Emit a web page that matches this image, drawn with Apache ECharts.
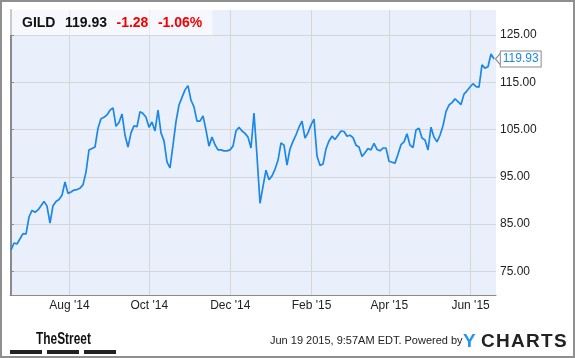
<!DOCTYPE html>
<html>
<head>
<meta charset="utf-8">
<script src="https://cdn.jsdelivr.net/npm/echarts@6/dist/echarts.min.js"></script>
<style>
html,body{margin:0;padding:0;background:#fff;}
#wrap{position:relative;width:575px;height:358px;}
#chart{position:absolute;left:0;top:0;width:575px;height:358px;}
#frame{position:absolute;left:0;top:0;width:575px;height:358px;box-sizing:border-box;border:2px solid #8f8f8f;pointer-events:none;}
</style>
</head>
<body>
<div id="wrap"><div id="chart"></div><div id="frame"></div></div>
<script>
// ---- data (GILD closing prices, Jun 2014 - Jun 19 2015, sampled along the chart) ----
const ticker = 'GILD';
const lastPrice = 119.93;
const change = '-1.28';
const changePct = '-1.06%';
const prices = [
  79.5, 81.0, 80.8, 81.9, 83.0, 82.9, 86.5, 87.9, 87.5, 88.0,
  88.9, 89.8, 88.8, 85.2, 88.9, 89.8, 90.2, 91.1, 93.9, 91.5,
  91.8, 92.2, 92.3, 92.6, 93.3, 96.0, 100.7, 101.0, 101.3, 105.3,
  107.3, 107.6, 108.1, 109.1, 109.6, 105.7, 106.5, 108.3, 103.8, 101.3,
  104.3, 105.8, 105.6, 108.8, 108.4, 107.6, 105.5, 106.6, 104.7, 109.1,
  104.3, 102.6, 98.1, 96.9, 101.7, 106.7, 110.2, 111.8, 113.4, 114.3,
  111.2, 109.8, 106.8, 106.8, 107.9, 104.9, 101.5, 103.4, 101.8, 100.7,
  100.7, 100.5, 100.5, 100.7, 101.5, 104.7, 105.5, 104.7, 104.2, 103.4,
  101.1, 108.5, 99.4, 89.4, 93.0, 96.4, 94.4, 95.2, 96.6, 98.5,
  102.2, 101.7, 97.5, 100.9, 102.5, 103.9, 105.5, 106.8, 103.2, 104.3,
  106.0, 107.2, 99.4, 97.4, 97.7, 100.9, 102.6, 103.6, 102.9, 103.8,
  104.7, 104.6, 103.6, 103.8, 103.3, 101.7, 101.3, 99.3, 100.1, 101.0,
  100.7, 102.1, 100.8, 100.5, 101.1, 101.1, 98.3, 98.1, 97.9, 99.8,
  101.8, 102.4, 104.1, 101.7, 101.2, 104.9, 105.3, 103.2, 102.8, 100.7,
  105.5, 103.4, 102.4, 103.8, 105.8, 108.8, 110.2, 110.7, 111.5, 110.9,
  110.3, 112.5, 113.2, 114.0, 114.7, 114.1, 114.0, 118.7, 118.0, 118.3,
  121.0, 119.93
];
// x positions (in sample units) of the month gridlines and their labels
const monthTickAt = [19.5, 46.1, 73.1, 100.2, 126.1, 153.2];
const monthLabels = ["Aug '14", "Oct '14", "Dec '14", "Feb '15", "Apr '15", "Jun '15"];
const priceTicks = [75, 85, 95, 105, 115, 125];
const footerNote = 'Jun 19 2015, 9:57AM EDT. Powered by';
const brandLetters = ['C', 'H', 'A', 'R', 'T', 'S'];

const seriesData = prices.map((v, i) => [i, v]);
const lastIndex = prices.length - 1;

const chart = echarts.init(document.getElementById('chart'), null, {renderer: 'canvas'});
const font = 'Liberation Sans, Arial, sans-serif';
const gridCol = '#d4d6da';
const axisCol = '#8a8a8a';

const graphics = [
  {type: 'text', left: 36, top: 331, scaleX: 0.7, style: {text: 'TheStreet', fontFamily: font, fontWeight: 'bold', fontSize: 17, fill: '#111'}},
  {type: 'rect', shape: {x: 10, y: 350, width: 32, height: 4}, style: {fill: '#222'}},
  {type: 'rect', shape: {x: 47, y: 350, width: 32, height: 4}, style: {fill: '#222'}},
  {type: 'rect', shape: {x: 84, y: 350, width: 32, height: 4}, style: {fill: '#222'}},
  {type: 'text', left: 270, top: 335, style: {text: footerNote, fontFamily: font, fontSize: 11, fill: '#222'}},
  {type: 'text', left: 463, top: 332, style: {text: 'Y', fontFamily: font, fontWeight: 'bold', fontSize: 19, fill: '#2196f3'}}
];
// letter-spaced brand name
const mctx = document.createElement('canvas').getContext('2d');
mctx.font = 'bold 19px Liberation Sans, Arial, sans-serif';
let bx = 481;
brandLetters.forEach(ch => {
  graphics.push({type: 'text', left: bx, top: 332,
    style: {text: ch, fontFamily: font, fontWeight: 'bold', fontSize: 19, fill: '#222'}});
  bx += mctx.measureText(ch).width + 1.3;
});

chart.setOption({
  animation: false,
  backgroundColor: '#fff',
  textStyle: {fontFamily: font},
  title: {
    left: 10, top: 10,
    padding: [4, 10, 3, 12],
    backgroundColor: 'rgba(255,255,255,0.55)',
    text: '{t|' + ticker + '}{s|}{p|' + lastPrice.toFixed(2) + '}{s|}{c|' + change + '}{s|}{c|' + changePct + '}',
    textStyle: {
      rich: {
        t: {fontFamily: font, fontSize: 14, fontWeight: 'bold', color: '#111'},
        p: {fontFamily: font, fontSize: 14, fontWeight: 'bold', color: '#111'},
        c: {fontFamily: font, fontSize: 14, fontWeight: 'bold', color: '#f50000'},
        s: {width: 9.5}
      }
    }
  },
  grid: {left: 10, right: 79, top: 10, bottom: 63, show: true, backgroundColor: '#eaf0fb', borderWidth: 0},
  xAxis: {
    type: 'value',
    min: -0.333, max: 161.667,
    axisLine: {show: true, onZero: false, lineStyle: {color: axisCol, width: 1}},
    axisTick: {show: false, customValues: monthTickAt},
    axisLabel: {
      customValues: monthTickAt,
      formatter: v => { const i = monthTickAt.indexOf(v); return i >= 0 ? monthLabels[i] : ''; },
      color: '#222', fontSize: 12, fontFamily: font, margin: 5
    },
    splitLine: {show: true, lineStyle: {color: gridCol, width: 1}}
  },
  yAxis: [{
    type: 'value', position: 'right',
    min: 70, max: 130.3,
    axisLine: {show: true, lineStyle: {color: axisCol, width: 1}},
    axisTick: {show: true, length: 3, customValues: priceTicks, lineStyle: {color: axisCol}},
    axisLabel: {
      customValues: priceTicks,
      formatter: v => v.toFixed(2),
      color: '#222', fontSize: 12, fontFamily: font, margin: 4
    },
    splitLine: {show: true, lineStyle: {color: gridCol, width: 1}}
  }, {
    type: 'value', position: 'left',
    min: 70, max: 130.3,
    axisLine: {show: true, onZero: false, lineStyle: {color: axisCol, width: 1}},
    axisTick: {show: false}, axisLabel: {show: false}, splitLine: {show: false}
  }],
  series: [{
    type: 'line',
    data: seriesData,
    yAxisIndex: 0,
    showSymbol: false,
    symbol: 'none',
    lineStyle: {color: '#1b87e6', width: 1.7},
    markPoint: {
      symbol: 'triangle',
      symbolRotate: 90,
      symbolSize: [12, 5],
      symbolOffset: [4, 0],
      itemStyle: {color: '#fff', borderColor: axisCol, borderWidth: 1},
      label: {
        show: true,
        position: 'right',
        distance: 0,
        formatter: () => lastPrice.toFixed(2),
        color: '#1b87e6', fontSize: 12, fontFamily: font,
        backgroundColor: '#fff', borderColor: axisCol, borderWidth: 1,
        padding: [2, 2, 1, 2]
      },
      data: [{coord: [lastIndex, lastPrice]}]
    }
  }],
  graphic: graphics
});
</script>
</body>
</html>
